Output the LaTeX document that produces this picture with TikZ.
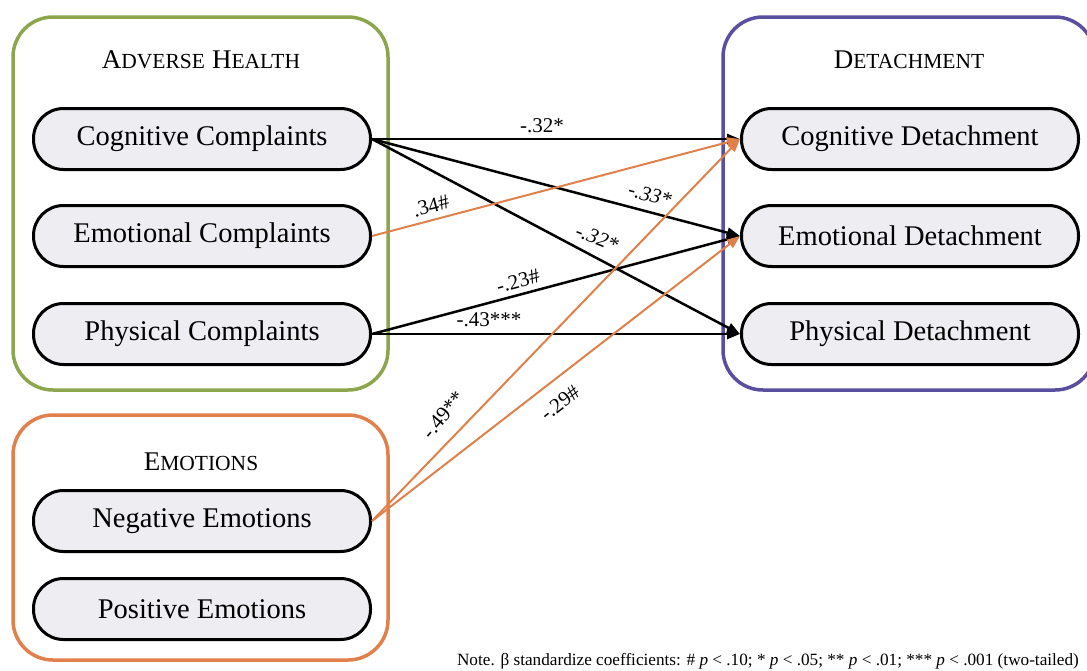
\documentclass[tikz,border=0pt]{standalone}
\usepackage{fontspec}
\setmainfont{Liberation Serif}
\usetikzlibrary{arrows.meta}
\definecolor{grn}{HTML}{8CA64E}
\definecolor{blu}{HTML}{5A4E9E}
\definecolor{org}{HTML}{E0804A}
\definecolor{pillfill}{HTML}{EDEDF2}
\newcommand\smcap[2]{{\fontsize{27}{28}\selectfont #1}{\fontsize{21.5}{22}\selectfont #2}}
\begin{document}
\begin{tikzpicture}[x=1pt,y=-1pt,
 pill/.style={draw=black, line width=3pt, fill=pillfill, rounded corners=30pt, minimum width=337pt, minimum height=61pt, inner sep=0pt, font=\fontsize{28.5}{30}\selectfont},
 grp/.style={line width=3.5pt, rounded corners=40pt},
 blk/.style={draw=black, line width=2.5pt, -{Triangle[length=13pt,width=10pt]}},
 orn/.style={draw=org, line width=2pt, -{Triangle[length=13pt,width=10pt]}},
 lbl/.style={font=\fontsize{21}{22}\selectfont, inner sep=0pt},
 ttl/.style={inner sep=0pt}
]
\useasboundingbox (0,0) rectangle (1087,670);
% group boxes
\draw[grp, draw=grn] (13,17) rectangle (388,390);
\draw[grp, draw=blu] (723,17) rectangle (1095,390);
\draw[grp, draw=org] (13,415) rectangle (388,660);
% titles
\node[ttl] (tAH) at (201,60) {\smcap{A}{DVERSE}\hspace{7pt}\smcap{H}{EALTH}};
\node[ttl] (tDT) at (909,60) {\smcap{D}{ETACHMENT}};
\node[ttl] (tEM) at (201,462) {\smcap{E}{MOTIONS}};
% pills
\node[pill] (cc) at (202,139) {Cognitive Complaints};
\node[pill] (ec) at (202,236) {Emotional Complaints};
\node[pill] (pc) at (202,334) {Physical Complaints};
\node[pill] (cd) at (910,139) {Cognitive Detachment};
\node[pill] (ed) at (910,236) {Emotional Detachment};
\node[pill] (pd) at (910,334) {Physical Detachment};
\node[pill] (ne) at (202,521) {Negative Emotions};
\node[pill] (pe) at (202,609) {Positive Emotions};
% connectors
\draw[blk] (cc.east) -- (cd.west);
\draw[blk] (cc.east) -- (ed.west);
\draw[blk] (cc.east) -- (pd.west);
\draw[orn] (ec.east) -- (cd.west);
\draw[blk] (pc.east) -- (ed.west);
\draw[blk] (pc.east) -- (pd.west);
\draw[orn] (ne.east) -- (cd.west);
\draw[orn] (ne.east) -- (ed.west);
% labels
\node[lbl] (l1) at (542,126) {-.32*};
\node[lbl, rotate=-15] (l2) at (650,195) {\itshape -.33*};
\node[lbl, rotate=-22] (l3) at (597,238) {\itshape -.32*};
\node[lbl, rotate=15] (l4) at (431,206) {.34\#};
\node[lbl, rotate=15] (l5) at (518,281) {-.23\#};
\node[lbl] (l6) at (489,320) {-.43***};
\node[lbl, rotate=50] (l7) at (443,415) {-.49**};
\node[lbl, rotate=38] (l8) at (560,403) {-.29\#};
% note
\node[inner sep=0pt, font=\fontsize{17.2}{18}\selectfont] (note) at (768,661) {Note. β standardize coefficients: \# \textit{p} < .10; * \textit{p} < .05; ** \textit{p} < .01; *** \textit{p} < .001 (two-tailed)};
\end{tikzpicture}
\end{document}
